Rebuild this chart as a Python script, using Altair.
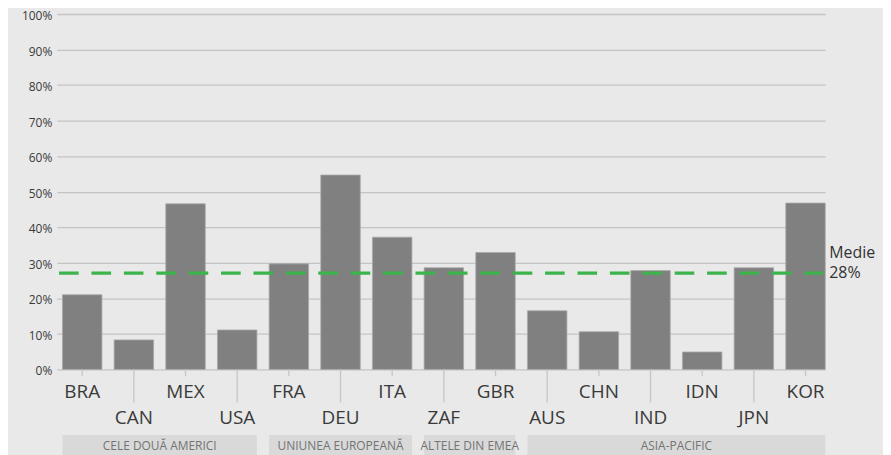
import altair as alt
import pandas as pd

countries = ["BRA", "CAN", "MEX", "USA", "FRA", "DEU", "ITA", "ZAF", "GBR", "AUS", "CHN", "IND", "IDN", "JPN", "KOR"]
values = [21.0, 8.3, 46.6, 11.1, 29.7, 54.7, 37.2, 28.6, 32.9, 16.5, 10.6, 27.8, 4.9, 28.6, 46.8]
group_names = ["CELE DOUĂ AMERICI", "UNIUNEA EUROPEANĂ", "ALTELE DIN EMEA", "ASIA-PACIFIC"]
group_first = ["BRA", "FRA", "ZAF", "AUS"]
group_last = ["USA", "ITA", "GBR", "KOR"]
group_sizes = [4, 3, 2, 6]
avg_value = 27.1
avg_title = "Medie"
avg_label = "28%"
y_ticks = list(range(0, 101, 10))

W, H = 772, 357
PI = 0.236
PO = 0.055
STEP = W / (len(countries) - PI + 2 * PO)
GAP = STEP * PI
xscale = alt.Scale(domain=countries, paddingInner=PI, paddingOuter=PO, align=1)
yscale = alt.Scale(domain=[0, 100], nice=False)

FONT = "Open Sans"
yaxis = alt.Axis(values=y_ticks, labelExpr="datum.value + '%'", grid=True,
                 gridColor="#c4c4c4", gridWidth=1.3, domain=False, ticks=False,
                 title=None, labelFont=FONT, labelFontSize=12, labelColor="#3a3a3a",
                 labelPadding=5, labelOverlap=False, labelOffset=1.5)

df = pd.DataFrame({"country": countries, "value": values})
df["row"] = [i % 2 for i in range(len(countries))]
top_df = df[df["row"] == 0]
bot_df = df[df["row"] == 1]

bars = alt.Chart(df).mark_bar(color="#7f807f", stroke="#a9a9a9", strokeWidth=0.8).encode(
    x=alt.X("country:N", scale=xscale, axis=None),
    y=alt.Y("value:Q", scale=yscale, axis=yaxis),
)

avg_df = pd.DataFrame({"avg": [avg_value], "title": [avg_title], "label": [avg_label]})
avg_rule = alt.Chart(avg_df).mark_rule(
    color="#3cb44b", strokeWidth=3.3, strokeDash=[19.7, 12.85]
).encode(y=alt.Y("avg:Q", scale=yscale, axis=yaxis), x=alt.value(2.3), x2=alt.value(770))

avg_text1 = alt.Chart(avg_df).mark_text(
    align="left", baseline="middle", font=FONT, fontSize=16, color="#333333", dy=-20.6
).encode(y=alt.Y("avg:Q", scale=yscale, axis=yaxis), x=alt.value(776), text="title")
avg_text2 = alt.Chart(avg_df).mark_text(
    align="left", baseline="middle", font=FONT, fontSize=16, color="#333333"
).encode(y=alt.Y("avg:Q", scale=yscale, axis=yaxis), x=alt.value(776), text="label")

ticks_top = alt.Chart(top_df).mark_rule(color="#c6c6c6", strokeWidth=1.3).encode(
    x=alt.X("country:N", scale=xscale, axis=None), y=alt.value(H), y2=alt.value(H + 7))
ticks_bot = alt.Chart(bot_df).mark_rule(color="#c6c6c6", strokeWidth=1.3).encode(
    x=alt.X("country:N", scale=xscale, axis=None), y=alt.value(H), y2=alt.value(H + 33))

lab_top = alt.Chart(top_df).mark_text(
    font=FONT, fontSize=19, color="#3a3a3a", baseline="alphabetic", align="center"
).encode(x=alt.X("country:N", scale=xscale, axis=None), y=alt.value(H + 29), text="country")
lab_bot = alt.Chart(bot_df).mark_text(
    font=FONT, fontSize=19, color="#3a3a3a", baseline="alphabetic", align="center"
).encode(x=alt.X("country:N", scale=xscale, axis=None), y=alt.value(H + 55), text="country")

gdf = pd.DataFrame({"first": group_first, "last": group_last, "name": group_names, "n": group_sizes})
boxes = alt.Chart(gdf).mark_rect(color="#d9d9d9").encode(
    x=alt.X("first:N", scale=xscale, axis=None, bandPosition=0),
    x2=alt.X2("last", bandPosition=1),
    y=alt.value(H + 66), y2=alt.value(H + 90))

group_texts = []
for i in range(len(group_names)):
    n = group_sizes[i]
    start = countries.index(group_first[i])
    mid = start + (n - 1) // 2
    row = pd.DataFrame({"anchor": [countries[mid]], "name": [group_names[i]]})
    if n % 2 == 1:
        bp, dx = 0.5, 0
    else:
        bp, dx = 1, GAP / 2
    group_texts.append(
        alt.Chart(row).mark_text(
            font=FONT, fontSize=12, color="#737373", baseline="middle", align="center", dx=dx
        ).encode(x=alt.X("anchor:N", scale=xscale, axis=None, bandPosition=bp),
                 y=alt.value(H + 76.7), text="name")
    )

chart = alt.layer(bars, boxes, *group_texts, ticks_top, ticks_bot, lab_top, lab_bot,
                  avg_rule, avg_text1, avg_text2).properties(
    width=W, height=H, autosize="none",
    padding={"left": 49, "top": 5, "right": 58, "bottom": 95},
    background="#e9e9e9",
).configure_view(stroke=None)

chart.save("out.html", embed_options={"renderer": "svg", "actions": False})
